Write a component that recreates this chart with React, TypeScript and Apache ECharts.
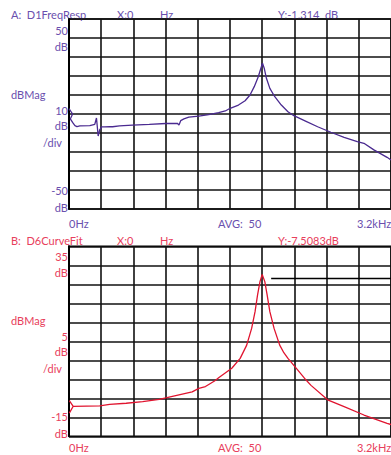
import React, { useEffect, useRef } from "react";
import * as echarts from "echarts";

// Trace A: D1FreqResp (Hz, dB)
const freqA = [0, 36, 13, 39, 59, 79, 108, 207, 256, 273, 290, 305, 325, 354, 404, 433, 502, 630, 798, 962, 1076, 1093, 1110, 1142, 1191, 1290, 1388, 1487, 1553, 1602, 1684, 1750, 1799, 1841, 1881, 1907, 1923, 1940, 1962, 1996, 2045, 2110, 2176, 2235, 2340, 2471, 2602, 2734, 2865, 2931, 3030, 3161, 3200];
const dbA = [2.8, 0.0, -2.6, -4.7, -6.1, -6.6, -6.3, -6.1, -5.5, -2.1, -11.6, -8.4, -6.8, -6.8, -6.6, -6.7, -6.3, -5.9, -5.5, -5.0, -4.9, -5.8, -3.5, -2.6, -1.6, -1.1, -0.3, 0.7, 1.6, 3.0, 4.7, 7.0, 10.0, 14.4, 19.6, 24.1, 26.7, 24.1, 18.8, 13.5, 9.1, 4.7, 1.2, -0.9, -3.5, -6.7, -9.6, -12.3, -14.6, -15.4, -18.9, -22.8, -24.2];

// Trace B: D6CurveFit (Hz, dB)
const freqB = [3, 42, 3, 42, 305, 404, 568, 732, 896, 962, 1093, 1224, 1290, 1356, 1454, 1487, 1618, 1701, 1766, 1815, 1849, 1874, 1898, 1920, 1946, 1969, 1996, 2038, 2094, 2135, 2176, 2274, 2356, 2405, 2570, 2734, 2931, 3161, 3200];
const dbB = [-5.6, -7.1, -8.9, -7.1, -7.0, -6.6, -6.3, -5.9, -5.3, -4.9, -4.1, -3.3, -2.4, -1.9, -0.3, 0.4, 2.9, 5.5, 9.0, 13.4, 17.8, 22.2, 25.7, 27.6, 25.7, 22.2, 17.8, 13.4, 9.0, 7.0, 5.5, 2.4, -0.2, -1.6, -5.4, -7.2, -9.4, -11.6, -11.9];

// Reference line in trace B
const refLineFreq = [2009, 3200];
const refLineDb = [26.5, 26.5];

// Axis settings
const xMin = 0;
const xMax = 3200;
const xStep = 320;
const yA = { min: -50, max: 50, step: 10 };
const yB = { min: -15, max: 35, step: 5 };

// Labels
const headerA = ["A:  D1FreqResp", "X:0", "Hz", "Y:-1.314  dB"];
const headerB = ["B:  D6CurveFit", "X:0", "Hz", "Y:-7.5083dB"];
const scaleA = ["50", "dB", "dBMag", "10", "dB", "/div", "-50", "dB"];
const scaleB = ["35", "dB", "dBMag", "5", "dB", "/div", "-15", "dB"];
const footer = ["0Hz", "AVG:  50", "3.2kHz"];

const PURPLE_TXT = "#6a4fae";
const PURPLE_LINE = "#4a2a90";
const RED_TXT = "#e8405c";
const RED_LINE = "#e0142f";
const FONT = "Lato, 'DejaVu Sans', sans-serif";

function texts(header: string[], scale: string[], color: string, off: number, footY: number) {
  const t = (text: string, x: number, y: number, align: string = "left") => ({
    type: "text",
    x,
    y,
    style: {
      text,
      fill: color,
      font: `11px ${FONT}`,
      textAlign: align,
      textVerticalAlign: "middle",
    },
  });
  return [
    t(header[0], 11, 14 + off),
    t(header[1], 117, 14 + off),
    t(header[2], 160, 14 + off),
    t(header[3], 278, 14 + off),
    t(scale[0], 68, 30 + off, "right"),
    t(scale[1], 68, 46 + off, "right"),
    t(scale[2], 11, 94 + off),
    t(scale[3], 68, 110 + off, "right"),
    t(scale[4], 68, 125 + off, "right"),
    t(scale[5], 43, 142 + off),
    t(scale[6], 68, 190 + off, "right"),
    t(scale[7], 68, 207 + off, "right"),
    t(footer[0], 69, footY),
    t(footer[1], 218, footY),
    t(footer[2], 357, footY),
  ];
}

export default function App() {
  const ref = useRef<HTMLDivElement>(null);
  useEffect(() => {
    if (!ref.current) return;
    const chart = echarts.init(ref.current, null, { renderer: "svg" });
    const grids = [
      { left: 69, top: 19, width: 325, height: 190 },
      { left: 69, top: 246.3, width: 325, height: 190 },
    ].map((g) => ({ ...g, show: true, borderColor: "#000", borderWidth: 1.5, containLabel: false }));
    const xAxis = [0, 1].map((i) => ({
      type: "value",
      gridIndex: i,
      min: xMin,
      max: xMax,
      interval: xStep,
      axisLabel: { show: false },
      axisTick: { show: false },
      axisLine: { show: false },
      splitLine: { show: true, lineStyle: { color: "#111", width: 1.6 } },
    }));
    const yAxis = [yA, yB].map((y, i) => ({
      type: "value",
      gridIndex: i,
      min: y.min,
      max: y.max,
      interval: y.step,
      axisLabel: { show: false },
      axisTick: { show: false },
      axisLine: { show: true, lineStyle: { color: "#000", width: 2 } },
      splitLine: { show: true, lineStyle: { color: "#111", width: 1.6 } },
    }));
    chart.setOption({
      animation: false,
      backgroundColor: "#fff",
      grid: grids,
      xAxis,
      yAxis,
      series: [
        {
          type: "line",
          xAxisIndex: 0,
          yAxisIndex: 0,
          data: freqA.map((f, i) => [f, dbA[i]]),
          showSymbol: false,
          symbol: "none",
          lineStyle: { color: PURPLE_LINE, width: 1.3 },
          clip: true,
        },
        {
          type: "line",
          xAxisIndex: 1,
          yAxisIndex: 1,
          data: freqB.map((f, i) => [f, dbB[i]]),
          showSymbol: false,
          symbol: "none",
          lineStyle: { color: RED_LINE, width: 1.3 },
          clip: true,
        },
        {
          type: "line",
          xAxisIndex: 1,
          yAxisIndex: 1,
          data: refLineFreq.map((f, i) => [f, refLineDb[i]]),
          showSymbol: false,
          symbol: "none",
          lineStyle: { color: "#000", width: 1.5 },
        },
      ],
      graphic: [
        ...texts(headerA, scaleA, PURPLE_TXT, 0, 223),
        ...texts(headerB, scaleB, RED_TXT, 226.7, 447.5),
      ],
    });
    return () => chart.dispose();
  }, []);
  return (
    <div
      ref={ref}
      style={{ position: "fixed", left: 0, top: 0, width: 391, height: 455, background: "#fff" }}
    />
  );
}
